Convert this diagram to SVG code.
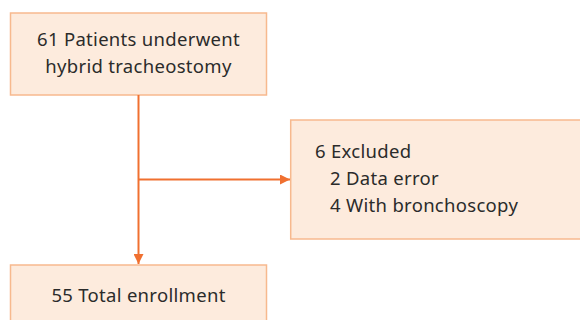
<svg xmlns="http://www.w3.org/2000/svg" width="580" height="320" viewBox="0 0 580 320">
<style>
.box{fill:#fdebdd;stroke:#f7b98e;stroke-width:1.5}
.t{font-family:"Noto Sans","Open Sans",sans-serif;font-size:18.5px;letter-spacing:0.3px;fill:#2b2b2b}
.c{text-anchor:middle}
.ln{stroke:#f07030;stroke-width:2;fill:none}
</style>
<defs>
<marker id="ah" viewBox="0 0 10 10" refX="10" refY="5" markerWidth="10" markerHeight="10" markerUnits="userSpaceOnUse" orient="auto">
<path d="M0,0 L10,5 L0,10 Z" fill="#f07030"/>
</marker>
</defs>
<rect width="580" height="320" fill="#fff"/>
<g id="n1">
<rect class="box" x="10.5" y="13" width="256" height="82"/>
<text class="t c" x="138.5" y="46">61 Patients underwent</text>
<text class="t c" x="138.5" y="73">hybrid tracheostomy</text>
</g>
<g id="n2">
<rect class="box" x="290.7" y="120" width="300" height="119"/>
<text class="t" x="315" y="158">6 Excluded</text>
<text class="t" x="330" y="185">2 Data error</text>
<text class="t" x="330" y="212">4 With bronchoscopy</text>
</g>
<g id="n3">
<rect class="box" x="10.5" y="265" width="256" height="70"/>
<text class="t c" x="138.5" y="302">55 Total enrollment</text>
</g>
<g id="connectors">
<line class="ln" x1="138.5" y1="95" x2="138.5" y2="264" marker-end="url(#ah)"/>
<line class="ln" x1="138.5" y1="179.5" x2="290" y2="179.5" marker-end="url(#ah)"/>
</g>
</svg>
